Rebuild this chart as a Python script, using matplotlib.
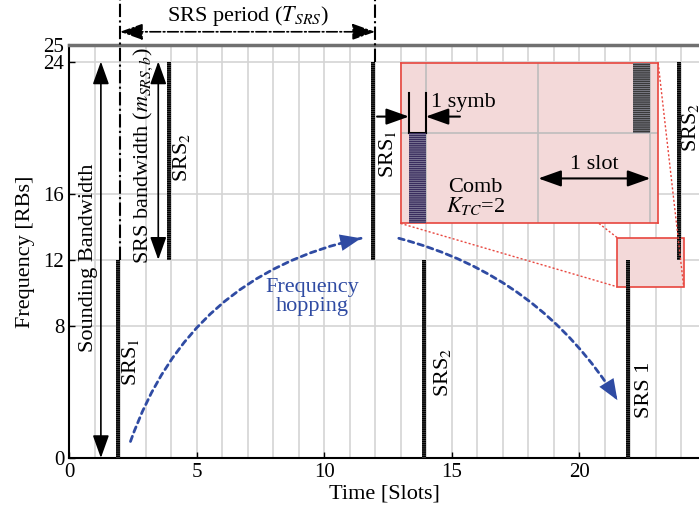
import numpy as np
import matplotlib.pyplot as plt

plt.rcParams['font.family'] = ['Liberation Serif', 'DejaVu Serif']
plt.rcParams['mathtext.fontset'] = 'stix'
plt.rcParams['hatch.linewidth'] = 0.4

# SRS transmissions: slot position (last symbol of the slot) and RB span
srs_x = [1.92, 3.92, 11.92, 13.92, 21.92, 23.92]
srs_low = [0, 12, 12, 0, 0, 12]
srs_high = [12, 24, 24, 12, 12, 24]
symb_w = 0.16

srs_labels = ['SRS$_1$', 'SRS$_2$', 'SRS$_1$', 'SRS$_2$', 'SRS 1', 'SRS$_2$']
label_x = [2.43, 4.42, 12.5, 14.63, 22.55, 24.35]
label_y = [5.8, 18.2, 18.4, 5.2, 4.1, 20.0]

x_ticks = [0, 5, 10, 15, 20]
y_ticks = [0, 8, 12, 16, 24, 25]

period = (2, 12)
sounding_bw = (0, 24)
srs_bw = (12, 24)

hop1_start, hop1_end = (2.41, 1.0), (11.45, 13.3)
hop2_start, hop2_end = (12.93, 13.3), (21.5, 3.5)

zoom_box = (21.5, 10.36, 2.6, 2.97)      # x, y, w, h in data
inset_box = (13.0, 14.2, 10.1, 9.7)
inset_xlim = (21.77, 24.07)
inset_ylim = (10.4, 13.25)
inset_colors = ['#3a2d5e', '#3a3a3a']

blue = '#2f4ba3'
red = '#e8463e'
pink = '#f3d9d9'

fig = plt.figure(figsize=(6.99, 5.15), dpi=100)
ax = fig.add_axes([69 / 699, 1 - 458 / 515, 1 - 69 / 699, (458 - 45) / 515])

ax.set_xlim(0, 24.7)
ax.set_ylim(0, 25)
ax.set_xticks(x_ticks)
ax.set_xticks(np.arange(1, 25), minor=True)
ax.set_yticks(y_ticks)
ax.tick_params(direction='in', labelsize=15, length=4, width=1)
ax.tick_params(which='minor', length=0)
ax.grid(True, which='both', color='#d4d4d4', lw=1.2)
ax.set_axisbelow(True)
for s in ['left', 'bottom']:
    ax.spines[s].set_linewidth(1.5)
ax.spines['right'].set_visible(False)
ax.spines['top'].set_color('#707070')
ax.spines['top'].set_linewidth(2.5)

ax.set_xlabel('Time [Slots]', fontsize=16, labelpad=2)
ax.set_ylabel('Frequency [RBs]', fontsize=16, labelpad=6)

# SRS bars
ax.bar(srs_x, np.array(srs_high) - np.array(srs_low), bottom=srs_low, width=symb_w,
       color='black', edgecolor='#6a6a6a', hatch='--------', linewidth=0, zorder=4)
for lx, ly, lab in zip(label_x, label_y, srs_labels):
    ax.text(lx, ly, lab, rotation=90, ha='center', va='center', fontsize=16, clip_on=False)

# bandwidth arrows
dbl = dict(arrowstyle='<|-|>,head_length=0.7,head_width=0.25', color='k', lw=1.2,
           shrinkA=0, shrinkB=0, mutation_scale=20)
ax.annotate('', xy=(1.25, sounding_bw[0]), xytext=(1.25, sounding_bw[1]), arrowprops=dbl)
ax.text(0.78, 12.1, 'Sounding Bandwidth', rotation=90, ha='center', va='center', fontsize=16)
ax.annotate('', xy=(3.5, srs_bw[0]), xytext=(3.5, srs_bw[1]), arrowprops=dbl)
ax.text(2.9, 18.3, 'SRS bandwidth ($m_{SRS,b}$)', rotation=90, ha='center', va='center', fontsize=16)

# SRS period
ax.plot([period[0], period[0]], [12, 27.8], color='k', ls='-.', lw=1.5, clip_on=False, zorder=5)
ax.plot([period[1], period[1]], [24, 27.8], color='k', ls='-.', lw=1.5, clip_on=False, zorder=5)
ax.annotate('', xy=(period[0], 25.8), xytext=(period[1], 25.8), annotation_clip=False,
            arrowprops=dict(dbl, ls='-.'))
ax.text(sum(period) / 2, 26.75, 'SRS period ($T_{SRS}$)', ha='center', va='center', fontsize=16,
        clip_on=False)

# frequency hopping: dashed curve, then a solid head on the same path
for (p0, p1, rad) in [(hop1_start, hop1_end, -0.28), (hop2_start, hop2_end, -0.2)]:
    ax.annotate('', xy=p1, xytext=p0,
                arrowprops=dict(arrowstyle='-', color=blue, lw=2, ls=(0, (2, 1.6)),
                                shrinkA=0, shrinkB=0, connectionstyle=f'arc3,rad={rad}'))
    ax.annotate('', xy=p1, xytext=p0,
                arrowprops=dict(arrowstyle='-|>,head_length=0.75,head_width=0.3', color=blue, lw=0,
                                shrinkA=0, shrinkB=0, mutation_scale=20,
                                connectionstyle=f'arc3,rad={rad}'))
ax.text(9.53, 9.75, 'Frequency\nhopping', color=blue, ha='center', va='center', fontsize=16,
        linespacing=0.95)

# zoom box on main axes
zx, zy, zw, zh = zoom_box
ax.add_patch(plt.Rectangle((zx, zy), zw, zh, facecolor=pink, edgecolor=red, lw=1.2, zorder=3))

# inset
ix, iy, iw, ih = inset_box
ins = ax.inset_axes([ix, iy, iw, ih], transform=ax.transData, zorder=6)
ins.set_facecolor(pink)
for s in ins.spines.values():
    s.set_color(red)
    s.set_linewidth(1.2)
ins.set_xlim(*inset_xlim)
ins.set_ylim(*inset_ylim)
ins.set_xticks([22, 23, 24])
ins.set_yticks([12])
ins.tick_params(length=0, labelbottom=False, labelleft=False)
ins.grid(True, color='#bdbdbd', lw=1.2)
ins.set_axisbelow(True)
ins.bar(srs_x[4:], np.array(srs_high[4:]) - np.array(srs_low[4:]), bottom=srs_low[4:], width=0.15,
        color=inset_colors, edgecolor='#a8a8b8', hatch='--------', linewidth=0, zorder=3)

# 1 symb marker
e0, e1 = srs_x[4] - 0.075, srs_x[4] + 0.075
ins.plot([e0, e0], [12, 12.72], color='k', lw=1.5)
ins.plot([e1, e1], [12, 12.72], color='k', lw=1.5)
ins.plot([e0, e1], [12, 12], color='k', lw=1.5)
arr = dict(arrowstyle='-|>,head_length=0.7,head_width=0.25', color='k', lw=1.5,
           shrinkA=0, shrinkB=0, mutation_scale=20)
ins.annotate('', xy=(e0, 12.3), xytext=(21.56, 12.3), arrowprops=arr, annotation_clip=False)
ins.annotate('', xy=(e1, 12.3), xytext=(22.3, 12.3), arrowprops=arr, annotation_clip=False)
ins.text(22.04, 12.55, '1 symb', ha='left', va='center', fontsize=16)

# 1 slot marker
ins.annotate('', xy=(23, 11.2), xytext=(24, 11.2), arrowprops=dict(dbl, lw=1.5))
ins.text(23.5, 11.45, '1 slot', ha='center', va='center', fontsize=16)
ins.text(22.44, 10.86, 'Comb\n$K_{TC}$=2', ha='center', va='center', fontsize=16, linespacing=0.9)

# dotted connectors between inset and zoom box
conn = [((ix, iy), (zx, zy)),
        ((ix + 0.77 * iw, iy), (zx, zy + zh)),
        ((ix + iw, iy + ih), (zx + zw, zy))]
for (x0, y0), (x1, y1) in conn:
    ax.plot([x0, x1], [y0, y1], color=red, ls=(0, (1.5, 1.5)), lw=1, zorder=5)

fig.savefig('out.png', dpi=100)
